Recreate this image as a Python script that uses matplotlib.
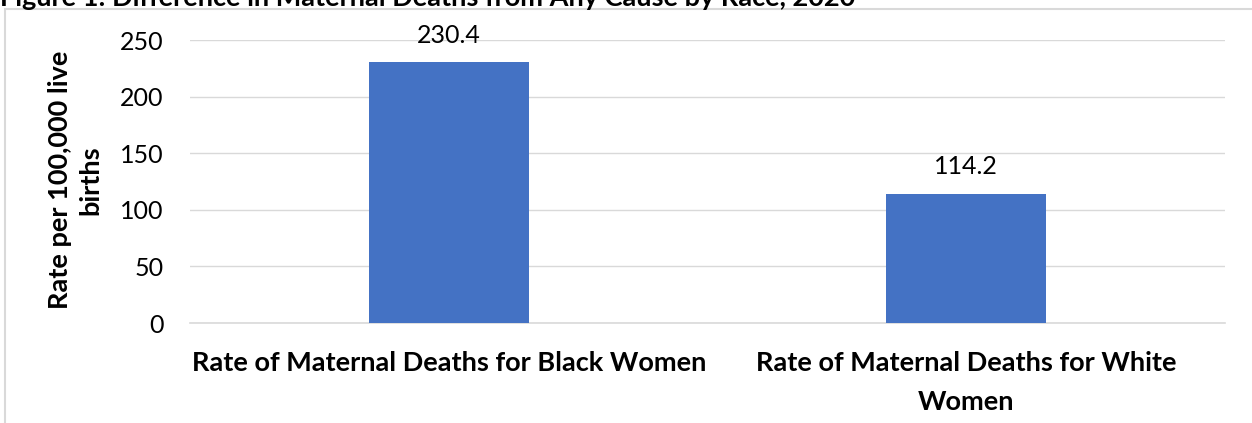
import matplotlib.pyplot as plt
from matplotlib.patches import Rectangle

categories = ["Rate of Maternal Deaths for Black Women",
              "Rate of Maternal Deaths for White\nWomen"]
rates = [230.4, 114.2]
yticks = [0, 50, 100, 150, 200, 250]

W, H = 1252, 423
fig = plt.figure(figsize=(W / 100, H / 100), dpi=100)
plt.rcParams['font.family'] = ['Lato', 'DejaVu Sans']

# outer chart border (runs off right and bottom)
fig.patches.append(Rectangle((5 / W, -0.1), 1.2, 1 - 9 / H + 0.1, transform=fig.transFigure,
                             fill=False, edgecolor='#d9d9d9', linewidth=1.5))

# title, clipped at top of image like the source
fig.text(0 / W, 1 - 6 / H, "Figure 1: Difference in Maternal Deaths from Any Cause by Race, 2020",
         fontsize=19.5, fontweight='bold', va='baseline', ha='left')

ax = fig.add_axes([190 / W, 1 - 323 / H, (1225 - 190) / W, (323 - 40) / H])
x = range(len(categories))
bars = ax.bar(x, rates, width=0.31, color='#4472C4', zorder=3)
for b, v in zip(bars, rates):
    ax.annotate(f"{v}", (b.get_x() + b.get_width() / 2, v), xytext=(0, 14),
                textcoords='offset points', ha='center', va='baseline', fontsize=18)

ax.set_xlim(-0.5, 1.5)
ax.set_ylim(0, 250)
ax.set_yticks(yticks)
ax.tick_params(axis='y', length=0, labelsize=18, pad=19)
ax.tick_params(axis='x', length=0, pad=20)
ax.set_xticks(list(x))
ax.set_xticklabels(categories, fontsize=19.5, fontweight='bold', linespacing=1.75)
ax.grid(axis='y', color='#d9d9d9', linewidth=1, zorder=0)
for s in ['top', 'right', 'left']:
    ax.spines[s].set_visible(False)
ax.spines['bottom'].set_color('#d9d9d9')
ax.spines['bottom'].set_linewidth(1.2)

fig.text(75 / W, 1 - 180 / H, "Rate per 100,000 live\nbirths", rotation=90, ha='center', va='center',
         fontsize=19.5, fontweight='bold', linespacing=1.35)

fig.savefig("out.png", dpi=100)
